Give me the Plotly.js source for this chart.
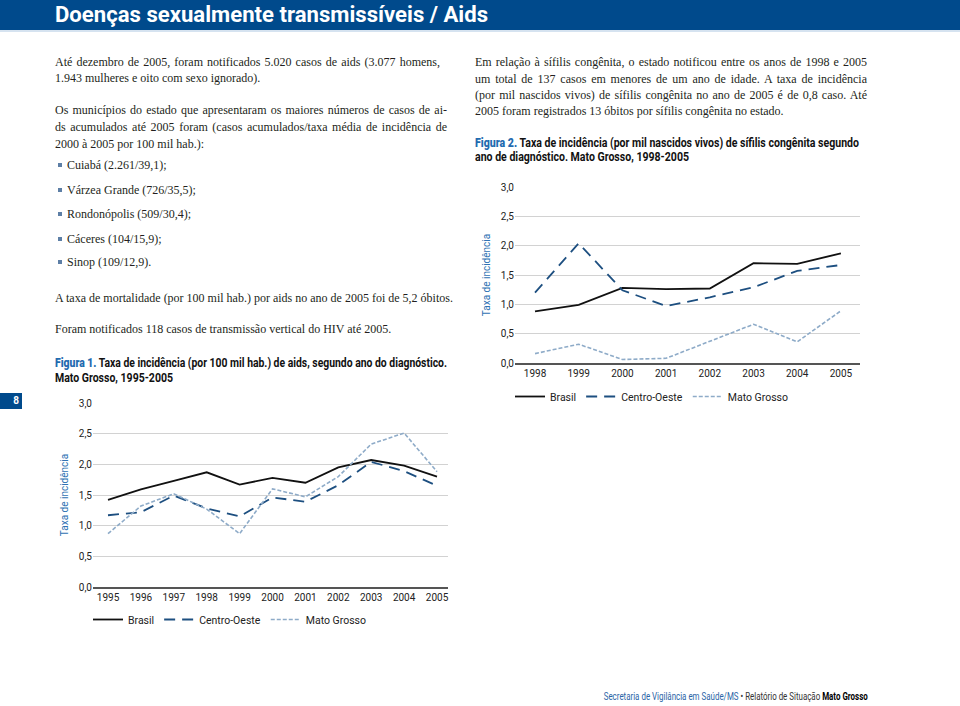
<!DOCTYPE html>
<html><head><meta charset="utf-8">
<script src="https://cdn.plot.ly/plotly-3.0.1.min.js"></script>
<style>
body{margin:0;background:#fff;}
#page{position:relative;width:960px;height:706px;overflow:hidden;background:#fff;}
#chart{position:absolute;left:0;top:0;width:960px;height:706px;}
.t{position:absolute;font-family:"Liberation Serif","DejaVu Serif",serif;font-size:12px;line-height:16px;color:#231f20;white-space:nowrap;}
.j{text-align:justify;text-align-last:justify;white-space:normal;height:16px;}
.cap{position:absolute;font-family:Roboto,"Open Sans",sans-serif;font-weight:bold;font-size:12px;line-height:15px;color:#111;white-space:nowrap;transform-origin:left center;}
.cap b{color:#1f6bb0;}
.bul{position:absolute;width:4px;height:4px;background:#5d7fa6;}
#hdr{position:absolute;left:0;top:0;width:960px;height:30px;background:#004a8c;border-bottom:2px solid #d6e3f0;}
#hdr span{position:absolute;left:55px;top:0;line-height:30px;color:#fff;font-family:Roboto,"Open Sans",sans-serif;font-weight:bold;font-size:22px;white-space:nowrap;transform-origin:left center;}
#pg{position:absolute;left:0;top:393px;width:22px;height:16px;background:#004a8c;color:#fff;font-family:Roboto,sans-serif;font-weight:bold;font-size:10px;line-height:16px;text-align:right;}
#pg span{padding-right:3px;}
#ftr{position:absolute;right:92px;top:689px;font-family:Roboto,"Open Sans",sans-serif;font-size:11.5px;line-height:14px;color:#333;white-space:nowrap;transform-origin:right center;}
#ftr .b{color:#2a64a6;}
#ftr .k{color:#000;font-weight:bold;}
</style></head>
<body><div id="page">
<div id="chart"></div>
<div id="hdr"><span data-w="433">Doenças sexualmente transmissíveis / Aids</span></div>

<div class="t j" style="left:55px;top:54px;width:385px;">Até dezembro de 2005, foram notificados 5.020 casos de aids (3.077 homens,</div>
<div class="t" style="left:55px;top:70px;">1.943 mulheres e oito com sexo ignorado).</div>
<div class="t j" style="left:55px;top:102px;width:392px;">Os municípios do estado que apresentaram os maiores números de casos de ai-</div>
<div class="t j" style="left:55px;top:119px;width:392px;">ds acumulados até 2005 foram (casos acumulados/taxa média de incidência de</div>
<div class="t" style="left:55px;top:136px;">2000 à 2005 por 100 mil hab.):</div>
<div class="bul" style="left:58px;top:163px;"></div><div class="t" style="left:67px;top:157px;">Cuiabá (2.261/39,1);</div>
<div class="bul" style="left:58px;top:188px;"></div><div class="t" style="left:67px;top:182px;">Várzea Grande (726/35,5);</div>
<div class="bul" style="left:58px;top:212px;"></div><div class="t" style="left:67px;top:206px;">Rondonópolis (509/30,4);</div>
<div class="bul" style="left:58px;top:237px;"></div><div class="t" style="left:67px;top:231px;">Cáceres (104/15,9);</div>
<div class="bul" style="left:58px;top:260px;"></div><div class="t" style="left:67px;top:254px;">Sinop (109/12,9).</div>
<div class="t" style="left:55px;top:290px;">A taxa de mortalidade (por 100 mil hab.) por aids no ano de 2005 foi de 5,2 óbitos.</div>
<div class="t" style="left:55px;top:321px;">Foram notificados 118 casos de transmissão vertical do HIV até 2005.</div>
<div class="cap" data-w="392" style="left:55px;top:356px;"><b>Figura 1.</b> Taxa de incidência (por 100 mil hab.) de aids, segundo ano do diagnóstico.</div>
<div class="cap" data-w="118" style="left:55px;top:371px;">Mato Grosso, 1995-2005</div>

<div class="t j" style="left:475px;top:54px;width:392px;">Em relação à sífilis congênita, o estado notificou entre os anos de 1998 e 2005</div>
<div class="t j" style="left:475px;top:71px;width:392px;">um total de 137 casos em menores de um ano de idade. A taxa de incidência</div>
<div class="t j" style="left:475px;top:87px;width:392px;">(por mil nascidos vivos) de sífilis congênita no ano de 2005 é de 0,8 caso. Até</div>
<div class="t" style="left:475px;top:103px;">2005 foram registrados 13 óbitos por sífilis congênita no estado.</div>
<div class="cap" data-w="384" style="left:475px;top:136px;"><b>Figura 2.</b> Taxa de incidência (por mil nascidos vivos) de sífilis congênita segundo</div>
<div class="cap" data-w="214" style="left:475px;top:150px;">ano de diagnóstico. Mato Grosso, 1998-2005</div>

<div id="pg"><span>8</span></div>
<div id="ftr" data-w="264"><span class="b">Secretaria de Vigilância em Saúde/MS</span> • Relatório de Situação <span class="k">Mato Grosso</span></div>
</div>
<script>
// ---- Data ----
const seriesNames = ['Brasil', 'Centro-Oeste', 'Mato Grosso'];

// Figura 1: aids incidence per 100 mil hab., 1995-2005
const years1 = [1995, 1996, 1997, 1998, 1999, 2000, 2001, 2002, 2003, 2004, 2005];
const brasil1 = [1.42, 1.59, 1.73, 1.87, 1.67, 1.78, 1.70, 1.95, 2.07, 1.98, 1.80];
const centroOeste1 = [1.17, 1.22, 1.49, 1.28, 1.15, 1.46, 1.39, 1.66, 2.04, 1.89, 1.65];
const matoGrosso1 = [0.87, 1.32, 1.52, 1.27, 0.87, 1.60, 1.47, 1.80, 2.33, 2.51, 1.88];

// Figura 2: congenital syphilis incidence per mil nascidos vivos, 1998-2005
const years2 = [1998, 1999, 2000, 2001, 2002, 2003, 2004, 2005];
const brasil2 = [0.88, 0.99, 1.28, 1.26, 1.27, 1.70, 1.69, 1.87];
const centroOeste2 = [1.20, 2.04, 1.24, 0.97, 1.12, 1.29, 1.57, 1.67];
const matoGrosso2 = [0.16, 0.32, 0.06, 0.08, 0.37, 0.66, 0.36, 0.89];

const yTickVals = [0, 0.5, 1, 1.5, 2, 2.5, 3];
const yTickText = ['0,0', '0,5', '1,0', '1,5', '2,0', '2,5', '3,0'];
const yTitle = 'Taxa de incidência';

// ---- Styling / layout ----
const W = 960, H = 706;
const px = v => v / W, py = v => 1 - v / H;
const lineStyles = [
  {color: '#111111', dash: 'solid', width: 1.8},
  {color: '#1d4f80', dash: '11px,7px', width: 1.8},
  {color: '#8eabc8', dash: '4px,2px', width: 1.6}
];
const sansFont = 'Roboto,"Open Sans",sans-serif';
const tickFont = {family: sansFont, size: 10, color: '#222'};

const fig1Series = [brasil1, centroOeste1, matoGrosso1];
const fig2Series = [brasil2, centroOeste2, matoGrosso2];

const traces = [];
fig1Series.forEach((ys, i) => traces.push({
  type: 'scatter', mode: 'lines', name: seriesNames[i], x: years1, y: ys,
  xaxis: 'x', yaxis: 'y', legend: 'legend',
  line: {color: lineStyles[i].color, dash: lineStyles[i].dash, width: lineStyles[i].width},
  hoverinfo: 'skip'
}));
fig2Series.forEach((ys, i) => traces.push({
  type: 'scatter', mode: 'lines', name: seriesNames[i], x: years2, y: ys,
  xaxis: 'x2', yaxis: 'y2', legend: 'legend2',
  line: {color: lineStyles[i].color, dash: lineStyles[i].dash, width: lineStyles[i].width},
  hoverinfo: 'skip'
}));

const yAxisCommon = {
  range: [0, 3], tickvals: yTickVals, ticktext: yTickText, ticks: '',
  showgrid: true, gridcolor: '#d2d2d2', gridwidth: 1, zeroline: false, showline: false,
  tickfont: tickFont, fixedrange: true,
  title: {text: yTitle, font: {family: sansFont, size: 10, color: '#2f72b3'}, standoff: 8}
};
const xAxisCommon = {
  ticks: '', showgrid: false, zeroline: false, showline: true, linecolor: '#555', linewidth: 1.5,
  tickfont: tickFont, fixedrange: true
};

const layout = {
  width: W, height: H, margin: {l: 0, r: 0, t: 0, b: 0},
  paper_bgcolor: 'rgba(0,0,0,0)', plot_bgcolor: 'rgba(0,0,0,0)',
  separators: ',.', showlegend: true,
  xaxis: Object.assign({}, xAxisCommon, {domain: [px(93), px(448)], range: [1994.544, 2005.334],
    tickvals: years1, ticktext: years1.map(String), anchor: 'y'}),
  yaxis: Object.assign({}, yAxisCommon, {domain: [py(587), py(403)], anchor: 'x'}),
  xaxis2: Object.assign({}, xAxisCommon, {domain: [px(515), px(860)], range: [1997.542, 2005.437],
    tickvals: years2, ticktext: years2.map(String), anchor: 'y2'}),
  yaxis2: Object.assign({}, yAxisCommon, {domain: [py(363), py(187)], anchor: 'x2'}),
  legend: {orientation: 'h', x: px(88), y: py(605), xanchor: 'left', yanchor: 'top',
    font: {family: sansFont, size: 10.5, color: '#222'}, bgcolor: 'rgba(0,0,0,0)'},
  legend2: {orientation: 'h', x: px(510), y: py(382), xanchor: 'left', yanchor: 'top',
    font: {family: sansFont, size: 10.5, color: '#222'}, bgcolor: 'rgba(0,0,0,0)'}
};

Plotly.newPlot('chart', traces, layout, {staticPlot: true, displayModeBar: false});

// squeeze condensed-looking sans texts to the reference widths
function fitWidths() {
  document.querySelectorAll('[data-w]').forEach(el => {
    el.style.transform = 'none';
    const w = el.getBoundingClientRect().width;
    const target = +el.dataset.w;
    if (w > 0) el.style.transform = 'scaleX(' + (target / w) + ')';
  });
}
fitWidths();
if (document.fonts && document.fonts.ready) document.fonts.ready.then(fitWidths);
</script>
</body></html>
